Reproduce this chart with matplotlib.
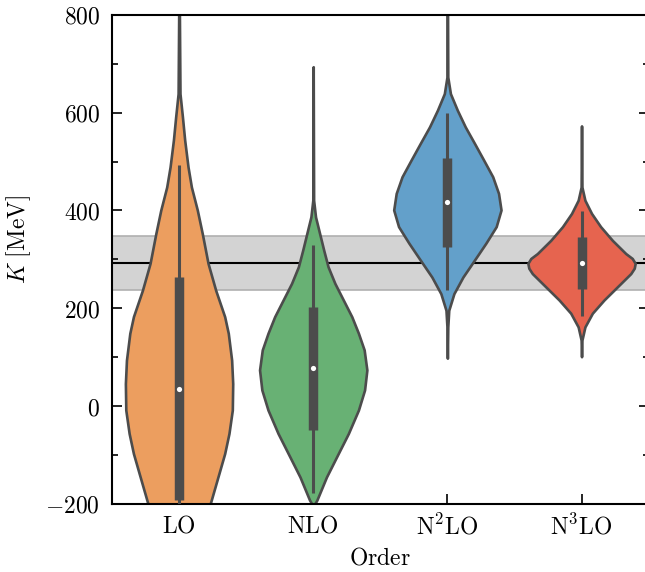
import numpy as np
import matplotlib
matplotlib.use("Agg")
import matplotlib.pyplot as plt

plt.rcParams['mathtext.fontset'] = 'cm'
plt.rcParams['font.family'] = 'serif'

# categories and summary values
orders = [r'$\mathrm{LO}$', r'$\mathrm{NLO}$', r'$\mathrm{N^2LO}$', r'$\mathrm{N^3LO}$']
colors = ['#ec9e5f', '#68b174', '#63a0ca', '#e6644f']

# violin outlines: K values [MeV] and half widths
lo_k = [900, 639, 592, 544, 489, 448, 401, 353, 292, 237, 183, 149, 94, 46, -8, -56, -97, -138, -196, -260]
lo_w = [0.0, 0.007, 0.025, 0.042, 0.067, 0.092, 0.136, 0.173, 0.216, 0.273, 0.34, 0.367, 0.392, 0.40,
        0.397, 0.372, 0.34, 0.297, 0.236, 0.15]
nlo_k = [694, 421, 387, 353, 319, 285, 251, 217, 183, 149, 115, 74, 33, -8, -56, -104, -145, -192, -205]
nlo_w = [0.0, 0.003, 0.017, 0.047, 0.077, 0.109, 0.159, 0.221, 0.283, 0.332, 0.374, 0.394, 0.377,
         0.332, 0.258, 0.171, 0.097, 0.027, 0.0]
n2lo_k = [900, 673, 639, 605, 571, 537, 503, 469, 435, 401, 367, 333, 299, 264, 230, 196, 162, 98]
n2lo_w = [0.0, 0.003, 0.022, 0.072, 0.129, 0.196, 0.262, 0.327, 0.369, 0.387, 0.352, 0.277, 0.196,
          0.112, 0.047, 0.01, 0.003, 0.0]
n3lo_k = [573, 448, 421, 394, 367, 339, 312, 302, 292, 282, 271, 244, 217, 190, 162, 135, 101]
n3lo_w = [0.0, 0.003, 0.025, 0.074, 0.141, 0.228, 0.327, 0.375, 0.397, 0.39, 0.364, 0.265, 0.166,
          0.08, 0.025, 0.003, 0.0]

medians = [36, 77, 418, 292]
q1 = [-192, -49, 325, 239]
q3 = [264, 203, 507, 346]
whisk_lo = [-260, -178, 237, 184]
whisk_hi = [494, 329, 599, 399]

k_ref = 292
k_band = (237, 348)

outlines = [(lo_k, lo_w), (nlo_k, nlo_w), (n2lo_k, n2lo_w), (n3lo_k, n3lo_w)]

fig = plt.figure(figsize=(6.45, 5.72), dpi=100)
ax = fig.add_axes([0.1736, 0.119, 0.832, 0.855])

ax.axhspan(k_band[0], k_band[1], color='#d3d3d3', ec='#b0b0b0', lw=1.2, zorder=0)
ax.axhline(k_ref, color='k', lw=1.5, zorder=0.5)

stats = []
for k, w in outlines:
    k = np.array(k, dtype=float)
    order = np.argsort(k)
    stats.append(dict(coords=k[order], vals=np.array(w)[order], mean=0, median=0,
                      min=k.min(), max=k.max()))
parts = ax.violin(stats, positions=range(len(orders)), widths=0.8,
                  showmeans=False, showextrema=False, showmedians=False)
for body, c in zip(parts['bodies'], colors):
    body.set_facecolor(c)
    body.set_edgecolor('#4c4c4c')
    body.set_linewidth(1.9)
    body.set_alpha(1)
    body.set_zorder(2)
    body.set_joinstyle('round')

pos = np.arange(len(orders))
ax.vlines(pos, whisk_lo, whisk_hi, color='#4c4c4c', lw=2.2, zorder=3)
ax.vlines(pos, q1, q3, color='#4c4c4c', lw=6.8, zorder=3)
ax.scatter(pos, medians, s=14, color='white', zorder=4, linewidths=0)

ax.set_xlim(-0.5, 3.5)
ax.set_ylim(-200, 800)
ax.set_xticks(pos)
ax.set_xticklabels(orders)
yt = np.arange(-200, 801, 200)
ax.set_yticks(yt)
ax.set_yticklabels([r'$%d$' % v for v in yt])
ax.set_yticks(np.arange(-100, 800, 200), minor=True)
ax.tick_params(axis='y', which='both', direction='in', left=True, right=True, width=1.2, pad=8.5)
ax.tick_params(axis='y', which='major', length=7)
ax.tick_params(axis='y', which='minor', length=4)
ax.tick_params(axis='x', direction='in', length=7, width=1.2, top=False, pad=7.5)
ax.tick_params(labelsize=17)
for s in ax.spines.values():
    s.set_linewidth(1.5)

ax.set_ylabel(r'$K\ [\mathrm{MeV}]$', fontsize=17)
ax.yaxis.set_label_coords(-0.147, 0.54)
ax.set_xlabel(r'$\mathrm{Order}$', fontsize=17, labelpad=5)

fig.savefig('out.png', dpi=100)
